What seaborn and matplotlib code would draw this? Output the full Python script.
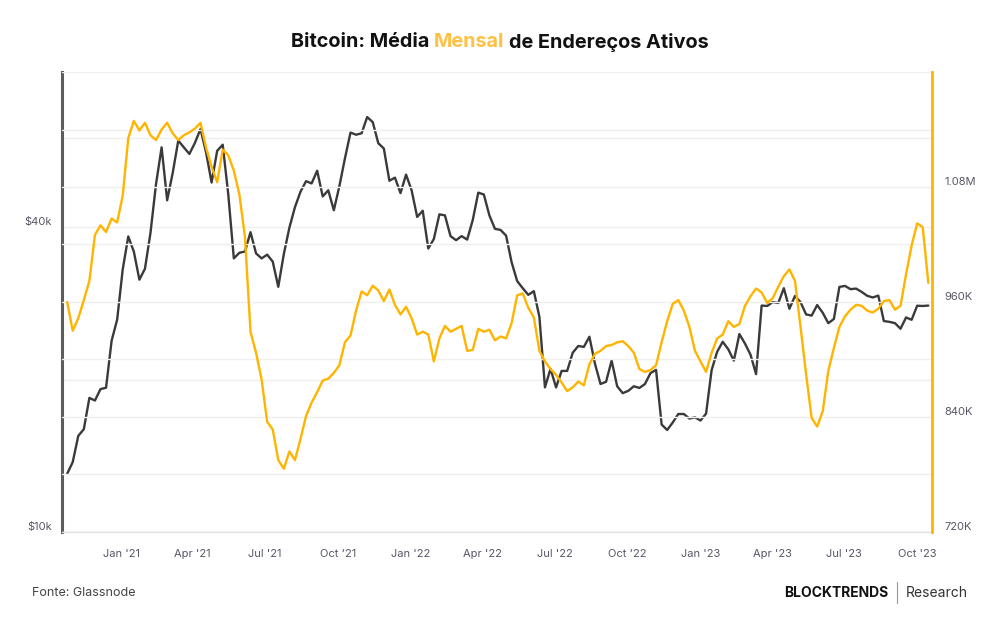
import pandas as pd
import matplotlib.pyplot as plt
import matplotlib.dates as mdates
from matplotlib.ticker import FixedLocator, FuncFormatter, NullLocator
from matplotlib.lines import Line2D
import seaborn as sns

# Dados semanais (domingos), out/2020 a out/2023
datas = pd.date_range("2020-10-25", periods=156, freq="7D")

preco_btc = [
    13030, 13740, 15480, 15960, 18400, 18180, 19150, 19270, 23860, 26270,
    # 2021
    33000, 38350, 35800, 31500, 33100, 39000, 48700, 57500, 45200,
    51200, 59300, 57500, 55800, 58700, 62500, 56200, 49000,
    56600, 58200, 46400, 34700, 35600, 35800, 39100, 35500, 34700,
    35300, 34200, 30500, 35400, 39900, 43800, 47000, 49300, 48800,
    51700, 46000, 47300, 43200, 48200, 54700, 61500, 60900, 61300,
    66000, 64500, 58600, 57200, 49400, 50100, 46700, 50800,
    # 2022
    47300, 41900, 43100, 36300, 37900, 42400, 42200, 38400, 37700,
    38400, 37800, 41300, 46800, 46400, 42200, 39700, 39500,
    38500, 34100, 31300, 30300, 29400, 29900, 26600, 19300, 21000,
    19300, 20800, 20800, 22600, 23300, 23200, 24300, 21500, 19600,
    19800, 21800, 19400, 18800, 19000, 19400, 19250, 19600, 20600,
    20900, 16300, 15900, 16450, 17100, 17100, 16750, 16840,
    # 2023
    16600, 17130, 20880, 22700, 23750, 22950, 21800, 24600, 23560,
    22400, 20500, 28000, 27950, 28450, 28330, 30300, 27600, 29250,
    28450, 26900, 26750, 28070, 27100, 25850, 26340, 30480,
    30620, 30170, 30250, 29800, 29280, 29050, 29300, 26100, 26000,
    25850, 25200, 26530, 26250, 27980, 27950, 28000,
]

enderecos_ativos = [
    960, 930, 943, 962, 982, 1030, 1040, 1033, 1047, 1043,
    1071, 1131, 1149, 1139, 1147, 1134, 1129, 1140, 1147, 1136,
    1129, 1134, 1137, 1141, 1147, 1121, 1101, 1085, 1119, 1113,
    1097, 1072, 1028, 929, 907, 879, 835, 827, 795, 786,
    804, 795, 817, 841, 855, 866, 878, 880, 886, 894,
    918, 925, 951, 971, 967, 977, 972, 961, 973, 957,
    947, 955, 943, 926, 929, 926, 898, 922, 935, 929,
    932, 935, 909, 910, 932, 929, 931, 920, 924, 922,
    938, 967, 969, 954, 944, 909, 898, 890, 884, 876,
    867, 871, 877, 873, 895, 906, 909, 914, 915, 918,
    919, 914, 907, 890, 887, 889, 894, 918, 940, 958,
    962, 951, 934, 909, 898, 887, 907, 922, 926, 940,
    934, 937, 956, 966, 974, 970, 959, 964, 976, 987,
    994, 982, 934, 885, 839, 830, 846, 888, 912, 934,
    945, 952, 957, 956, 951, 949, 953, 961, 962, 952,
    956, 989, 1019, 1042, 1038, 980,
]
enderecos_ativos = [v * 1000 for v in enderecos_ativos]

df = pd.DataFrame({"data": datas, "preco": preco_btc, "enderecos": enderecos_ativos})

COR_PRECO = "#3a3a3a"
COR_ENDERECOS = "#FFB400"
COR_TICK = "#5a5566"

sns.set_style("white")
plt.rcParams["font.family"] = ["Inter", "DejaVu Sans"]

fig = plt.figure(figsize=(10, 6.3), dpi=100)
ax = fig.add_axes([0.062, 0.1556, 0.870, 0.7301])

# Preço do BTC (eixo esquerdo, log)
sns.lineplot(data=df, x="data", y="preco", ax=ax, color=COR_PRECO, linewidth=1.7)
ax.set_yscale("log")
ax.set_ylim(10000, 81000)
ax.yaxis.set_major_locator(FixedLocator([10000, 20000, 40000, 60000]))
ax.yaxis.set_minor_locator(NullLocator())
rot_esq = {10000: "$10k", 40000: "$40k"}
ax.yaxis.set_major_formatter(FuncFormatter(lambda v, p: rot_esq.get(int(round(v)), "")))

# Endereços ativos (eixo direito)
ax2 = ax.twinx()
sns.lineplot(data=df, x="data", y="enderecos", ax=ax2, color=COR_ENDERECOS, linewidth=1.7)
ax2.set_ylim(720000, 1200000)
ax2.yaxis.set_major_locator(FixedLocator(list(range(720000, 1200001, 60000))))
rot_dir = {720000: "720K", 840000: "840K", 960000: "960K", 1080000: "1.08M"}
ax2.yaxis.set_major_formatter(FuncFormatter(lambda v, p: rot_dir.get(int(round(v)), "")))

ax.set_xlim(pd.Timestamp("2020-10-18 12:00"), pd.Timestamp("2023-10-19 16:00"))
ax.xaxis.set_major_locator(mdates.MonthLocator(bymonth=[1, 4, 7, 10]))
ax.xaxis.set_major_formatter(mdates.DateFormatter("%b '%y"))

for a in (ax, ax2):
    a.set_xlabel("")
    a.set_ylabel("")
    a.grid(axis="y", color="#efefef", linewidth=1)
    a.set_axisbelow(True)
    a.spines["top"].set_visible(False)

ax.spines["right"].set_visible(False)
ax2.spines["left"].set_visible(False)
ax2.spines["bottom"].set_visible(False)
ax.spines["left"].set_color("#5c5c5c")
ax.spines["left"].set_linewidth(2.2)
ax2.spines["right"].set_color(COR_ENDERECOS)
ax2.spines["right"].set_linewidth(2)
ax.spines["bottom"].set_color("#e3e3e3")
ax.spines["bottom"].set_linewidth(1)

ax.tick_params(axis="y", length=0, pad=7, labelsize=8, labelcolor=COR_TICK)
ax2.tick_params(axis="y", length=0, pad=9, labelsize=8, labelcolor=COR_TICK)
ax.tick_params(axis="x", length=5, color="#dddddd", pad=7, labelsize=8, labelcolor=COR_TICK)

for lab in ax.get_yticklabels() + ax2.get_yticklabels():
    lab.set_verticalalignment("bottom")

# Título com "Mensal" em destaque
fig.canvas.draw()
r = fig.canvas.get_renderer()
tam_titulo = 14.3
partes = [("Bitcoin: Média", "#111111"), ("Mensal", "#FFC145"), ("de Endereços Ativos", "#111111")]
textos = [fig.text(0, 0.933, s, color=c, fontsize=tam_titulo, fontweight="bold", va="center", ha="left")
          for s, c in partes]
larguras = [t.get_window_extent(r).width for t in textos]
t_a = fig.text(0, 0, "a a", fontsize=tam_titulo, fontweight="bold")
t_b = fig.text(0, 0, "aa", fontsize=tam_titulo, fontweight="bold")
espaco = t_a.get_window_extent(r).width - t_b.get_window_extent(r).width
t_a.remove()
t_b.remove()
W = fig.bbox.width
total = sum(larguras) + 2 * espaco
x0 = (W - total) / 2
for t, w in zip(textos, larguras):
    t.set_x(x0 / W)
    x0 += w + espaco

# Rodapé
fig.text(0.032, 0.059, "Fonte: Glassnode", fontsize=9, color="#444444", va="center")
fig.text(0.888, 0.059, "BLOCKTRENDS", fontsize=10, fontweight="bold", color="#111111",
         va="center", ha="right")
fig.add_artist(Line2D([0.897, 0.897], [0.043, 0.076], color="#999999", linewidth=0.8))
fig.text(0.968, 0.059, "Research", fontsize=10, color="#333333", va="center", ha="right")

fig.savefig("out.png", dpi=100)
